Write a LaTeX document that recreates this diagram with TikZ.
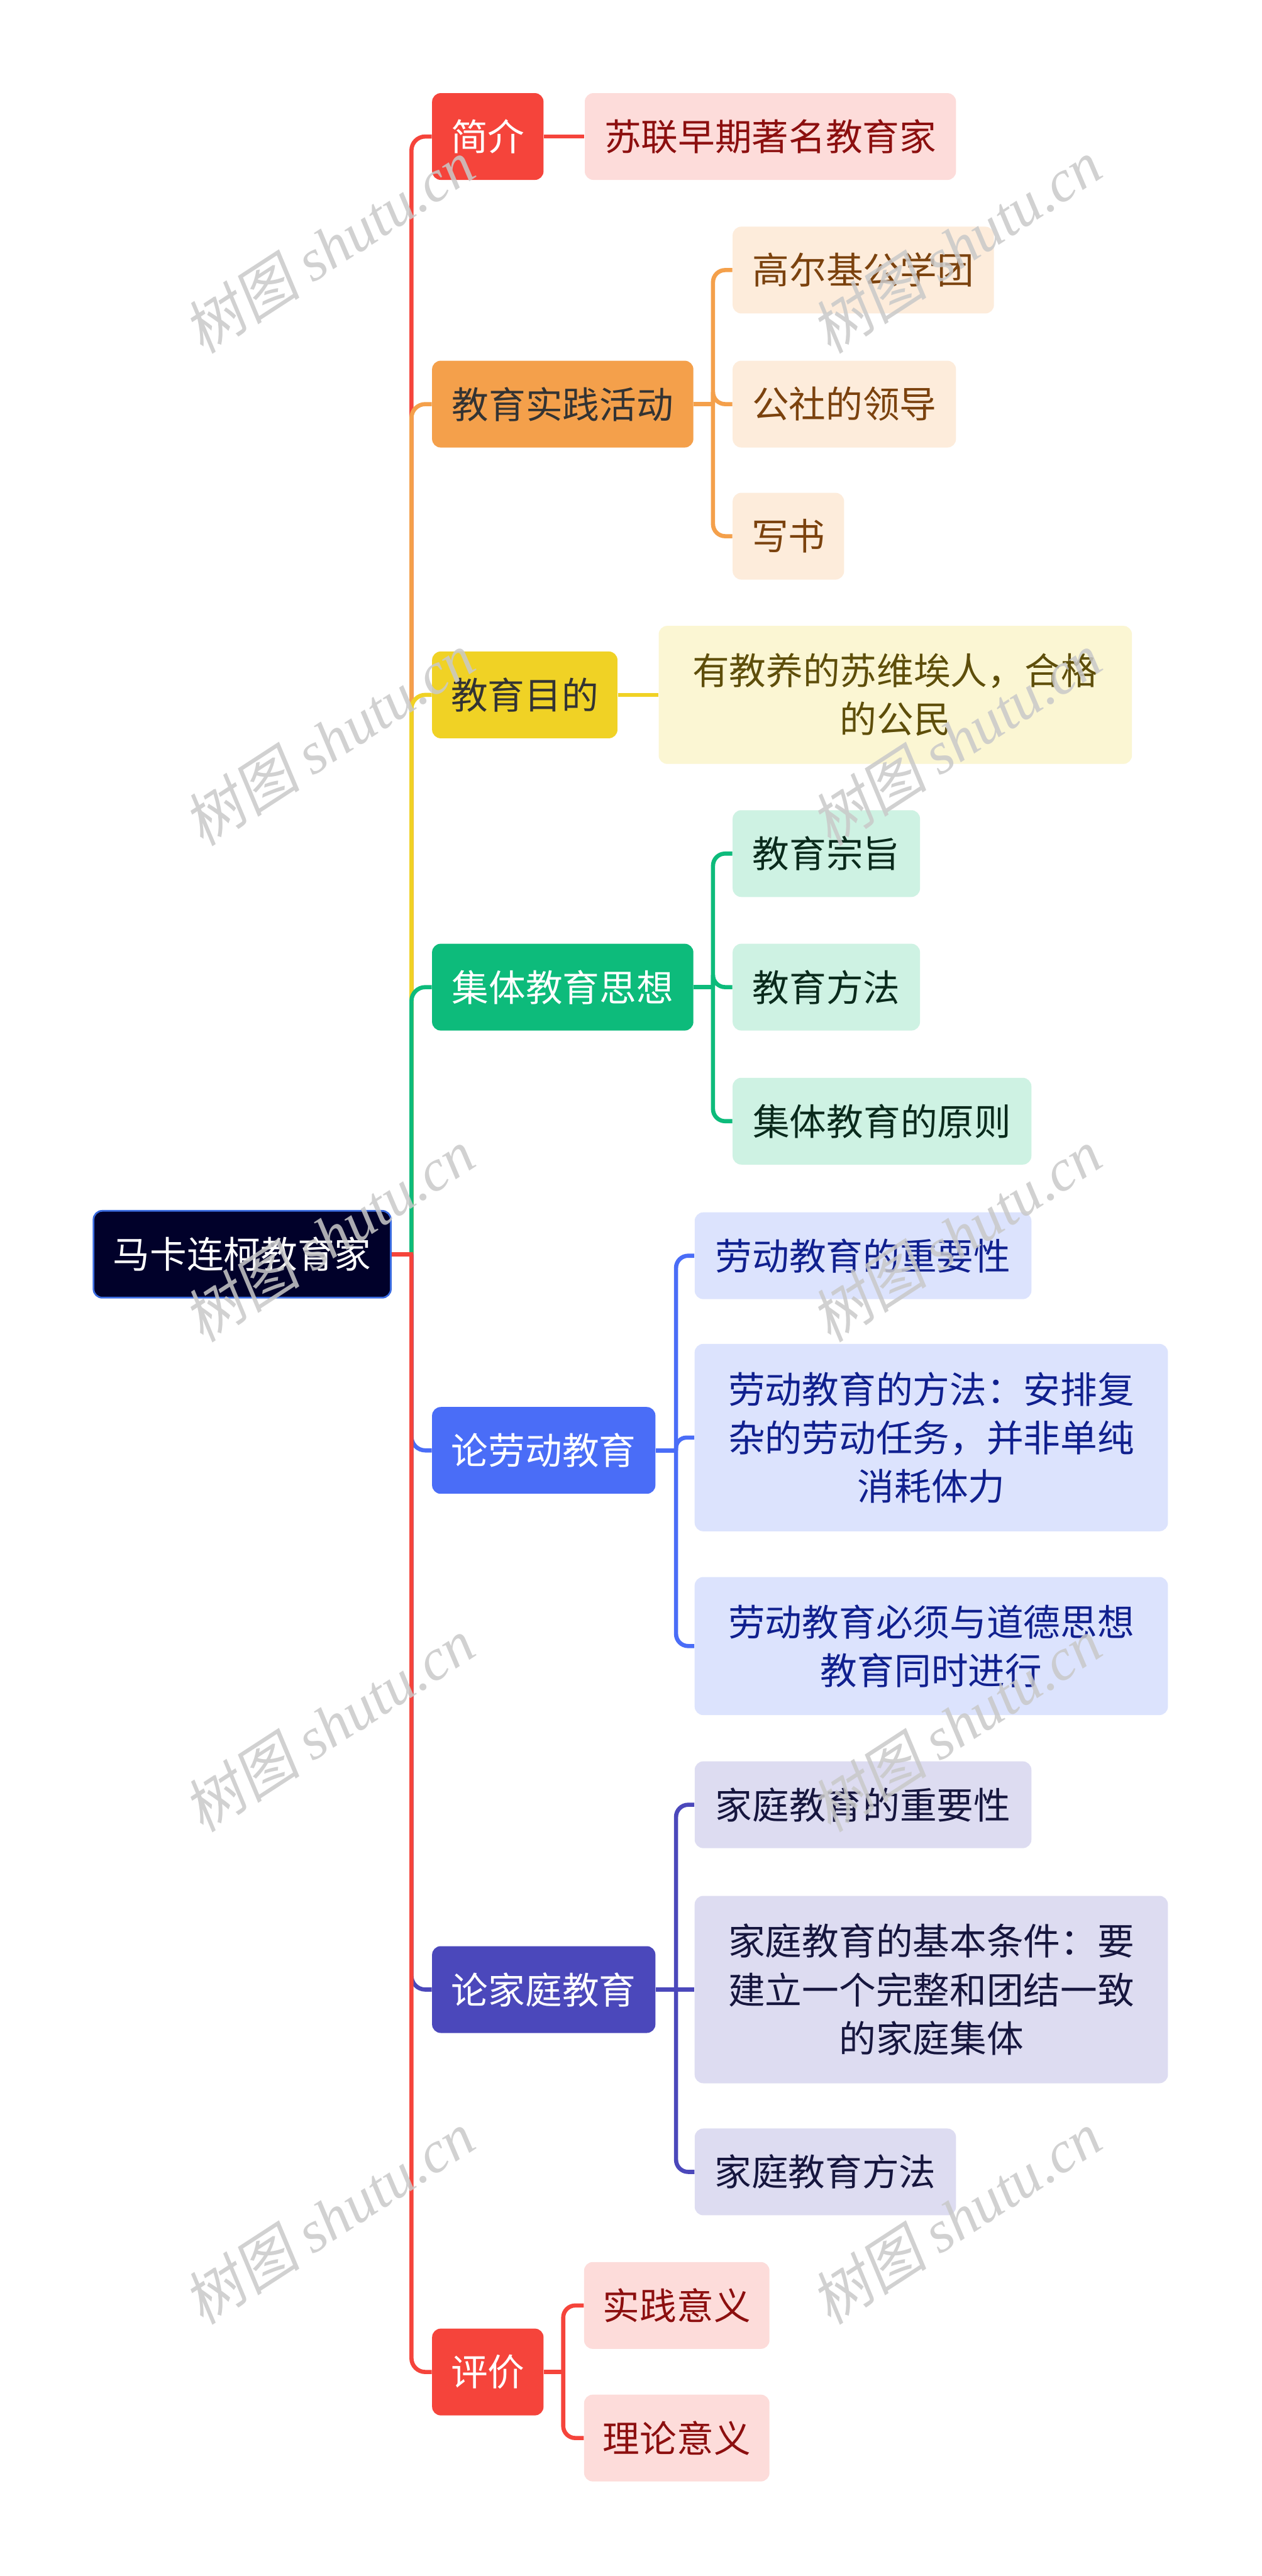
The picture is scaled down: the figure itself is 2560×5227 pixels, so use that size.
\documentclass[tikz,border=0pt]{standalone}
\usepackage{fontspec}
\setmainfont{Noto Sans CJK SC}
\newfontfamily\wmcjk{Noto Sans CJK SC}[FakeSlant=0.18]
\newfontfamily\wmlat{Liberation Serif}[ItalicFont={Liberation Serif Italic}]
\usetikzlibrary{calc}
\definecolor{cRoot}{HTML}{01012A}
\definecolor{cRootB}{HTML}{3A6BE0}
\definecolor{cRed}{HTML}{F5443B}
\definecolor{cRedL}{HTML}{FDDCDA}
\definecolor{cRedT}{HTML}{8C0F0F}
\definecolor{cOrg}{HTML}{F4A04B}
\definecolor{cOrgL}{HTML}{FDECDB}
\definecolor{cOrgT}{HTML}{7B420E}
\definecolor{cYel}{HTML}{F0D225}
\definecolor{cYelL}{HTML}{FBF6D3}
\definecolor{cYelT}{HTML}{5E4E0A}
\definecolor{cGrn}{HTML}{0DBB7B}
\definecolor{cGrnL}{HTML}{CEF2E3}
\definecolor{cGrnT}{HTML}{0A2A1C}
\definecolor{cBlu}{HTML}{4A6DF7}
\definecolor{cBluL}{HTML}{DCE3FD}
\definecolor{cBluT}{HTML}{10208F}
\definecolor{cInd}{HTML}{4B48BB}
\definecolor{cIndL}{HTML}{DDDCF1}
\definecolor{cIndT}{HTML}{16163E}
\definecolor{cDark}{HTML}{333333}
\definecolor{cWm}{HTML}{C9C9C9}
\begin{document}
\begin{tikzpicture}[x=0.01cm,y=-0.01cm,
  every node/.style={font=\fontsize{21.3pt}{28pt}\selectfont},
  bx/.style={rounded corners=5pt, inner sep=0pt, align=center, minimum height=1.76cm},
  ln/.style={line width=2.4pt},
  wm/.style={text=cWm, opacity=0.85, rotate=33, font=\fontsize{34pt}{34pt}\selectfont},
]
\useasboundingbox (0,0) rectangle (2560,5227);
\fill[white] (0,0) rectangle (2560,5227);

% root
\node[bx, fill=cRoot, draw=cRootB, line width=1pt, text=white, minimum width=6.03cm] (root) at (491.5,2545) {马卡连柯教育家};

% level 1
\node[bx, fill=cRed, text=white, minimum width=2.26cm] (b1) at (990,277) {简介};
\node[bx, fill=cOrg, text=cDark, minimum width=5.30cm] (b2) at (1142,820) {教育实践活动};
\node[bx, fill=cYel, text=cDark, minimum width=3.76cm] (b3) at (1065,1410) {教育目的};
\node[bx, fill=cGrn, text=white, minimum width=5.30cm] (b4) at (1142,2003) {集体教育思想};
\node[bx, fill=cBlu, text=white, minimum width=4.53cm] (b5) at (1103.5,2943) {论劳动教育};
\node[bx, fill=cInd, text=white, minimum width=4.53cm] (b6) at (1103.5,4037) {论家庭教育};
\node[bx, fill=cRed, text=white, minimum width=2.26cm] (b7) at (990,4813) {评价};

% level 2
\node[bx, fill=cRedL, text=cRedT, minimum width=7.53cm] (c11) at (1563.5,277) {苏联早期著名教育家};

\node[bx, fill=cOrgL, text=cOrgT, minimum width=5.30cm] (c21) at (1752,548) {高尔基公学团};
\node[bx, fill=cOrgL, text=cOrgT, minimum width=4.53cm] (c22) at (1713.5,820) {公社的领导};
\node[bx, fill=cOrgL, text=cOrgT, minimum width=2.26cm] (c23) at (1600,1088) {写书};

\node[bx, fill=cYelL, text=cYelT, minimum width=9.60cm, minimum height=2.80cm] (c31) at (1817,1410) {有教养的苏维埃人，合格\\的公民};

\node[bx, fill=cGrnL, text=cGrnT, minimum width=3.80cm] (c41) at (1677,1732) {教育宗旨};
\node[bx, fill=cGrnL, text=cGrnT, minimum width=3.80cm] (c42) at (1677,2003) {教育方法};
\node[bx, fill=cGrnL, text=cGrnT, minimum width=6.06cm] (c43) at (1790,2275) {集体教育的原则};

\node[bx, fill=cBluL, text=cBluT, minimum width=6.83cm] (c51) at (1751.5,2548) {劳动教育的重要性};
\node[bx, fill=cBluL, text=cBluT, minimum width=9.60cm, minimum height=3.80cm] (c52) at (1890,2917) {劳动教育的方法：安排复\\杂的劳动任务，并非单纯\\消耗体力};
\node[bx, fill=cBluL, text=cBluT, minimum width=9.60cm, minimum height=2.80cm] (c53) at (1890,3340) {劳动教育必须与道德思想\\教育同时进行};

\node[bx, fill=cIndL, text=cIndT, minimum width=6.83cm] (c61) at (1751.5,3662) {家庭教育的重要性};
\node[bx, fill=cIndL, text=cIndT, minimum width=9.60cm, minimum height=3.80cm] (c62) at (1890,4037) {家庭教育的基本条件：要\\建立一个完整和团结一致\\的家庭集体};
\node[bx, fill=cIndL, text=cIndT, minimum width=5.30cm] (c63) at (1675,4407) {家庭教育方法};

\node[bx, fill=cRedL, text=cRedT, minimum width=3.76cm] (c71) at (1373.5,4678) {实践意义};
\node[bx, fill=cRedL, text=cRedT, minimum width=3.76cm] (c72) at (1373.5,4947) {理论意义};

% trunk
\coordinate (J) at (835,2545);
\draw[ln,cRed,rounded corners=8pt] (J) |- (b1.west);
\draw[ln,cOrg,rounded corners=8pt] (J) |- (b2.west);
\draw[ln,cYel,rounded corners=8pt] (J) |- (b3.west);
\draw[ln,cGrn,rounded corners=8pt] (J) |- (b4.west);
\draw[ln,cBlu,rounded corners=8pt] (J) |- (b5.west);
\draw[ln,cInd,rounded corners=8pt] (J) |- (b6.west);
\draw[ln,cRed,rounded corners=8pt] (J) |- (b7.west);
\draw[ln,cRed] (root.east) -- ($(J)+(4,0)$);

% branch 1
\draw[ln,cRed] (b1.east) -- (c11.west);
% branch 2
\coordinate (K2) at (1447,820);
\draw[ln,cOrg] (b2.east) -- ($(K2)+(4,0)$);
\draw[ln,cOrg,rounded corners=7pt] (K2) |- (c21.west);
\draw[ln,cOrg,rounded corners=7pt] (K2) |- (c22.west);
\draw[ln,cOrg,rounded corners=7pt] (K2) |- (c23.west);
% branch 3
\draw[ln,cYel] (b3.east) -- (c31.west);
% branch 4
\coordinate (K4) at (1447,2003);
\draw[ln,cGrn] (b4.east) -- ($(K4)+(4,0)$);
\draw[ln,cGrn,rounded corners=7pt] (K4) |- (c41.west);
\draw[ln,cGrn,rounded corners=7pt] (K4) |- (c42.west);
\draw[ln,cGrn,rounded corners=7pt] (K4) |- (c43.west);
% branch 5
\coordinate (K5) at (1372,2943);
\draw[ln,cBlu] (b5.east) -- ($(K5)+(4,0)$);
\draw[ln,cBlu,rounded corners=7pt] (K5) |- (c51.west);
\draw[ln,cBlu,rounded corners=6pt] (K5) |- (c52.west);
\draw[ln,cBlu,rounded corners=7pt] (K5) |- (c53.west);
% branch 6
\coordinate (K6) at (1372,4037);
\draw[ln,cInd] (b6.east) -- ($(K6)+(4,0)$);
\draw[ln,cInd,rounded corners=7pt] (K6) |- (c61.west);
\draw[ln,cInd] (K6) -- (c62.west);
\draw[ln,cInd,rounded corners=7pt] (K6) |- (c63.west);
% branch 7
\coordinate (K7) at (1143,4813);
\draw[ln,cRed] (b7.east) -- ($(K7)+(4,0)$);
\draw[ln,cRed,rounded corners=7pt] (K7) |- (c71.west);
\draw[ln,cRed,rounded corners=7pt] (K7) |- (c72.west);

% watermarks
\foreach \i/\x/\y in {1/667/500,2/1940/500,3/667/1500,4/1940/1500,5/667/2507,6/1940/2507,7/667/3500,8/1940/3500,9/667/4500,10/1940/4500}{
  \node[wm] (wm\i) at (\x,\y) {{\wmcjk 树图} {\wmlat\itshape shutu.cn}};
}
\end{tikzpicture}
\end{document}
